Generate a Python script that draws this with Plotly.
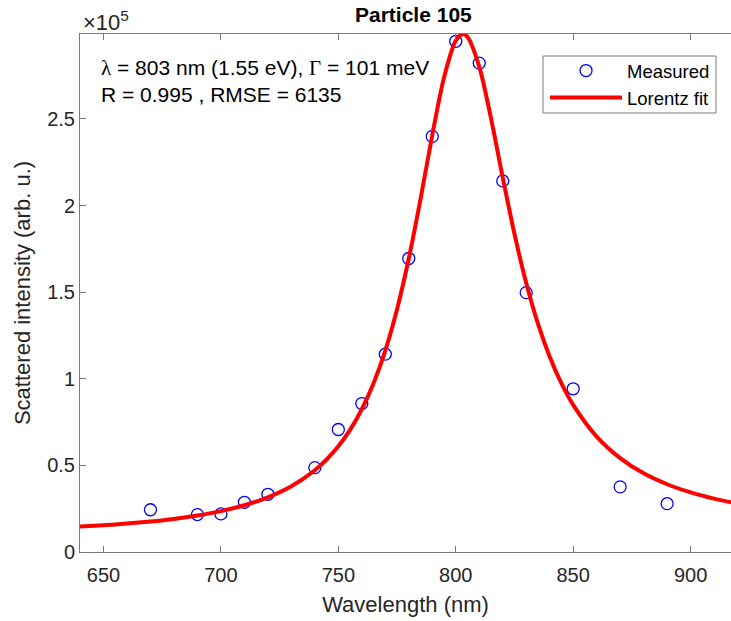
import plotly.graph_objects as go

# ---- data ----
meas_wl = [670, 690, 700, 710, 720, 740, 750, 760, 770, 780, 790, 800, 810, 820, 830, 850, 870, 890]
meas_int = [24400, 21600, 22000, 28700, 33300, 48700, 70700, 85700, 114200, 169400, 239900,
            294800, 282200, 214200, 149700, 94200, 37600, 27900]

fit_wl = [640, 650, 660, 670, 680, 690, 700, 710, 720, 730, 740, 745, 750, 755, 760, 765, 770,
          775, 780, 785, 790, 795, 800, 803, 805, 810, 815, 820, 825, 830, 835, 840, 845, 850,
          860, 870, 880, 890, 900, 910, 920]
fit_int = [14700, 15500, 16400, 17600, 19100, 21100, 23600, 27000, 31500, 37900, 47200, 53400,
           61000, 70500, 82400, 97400, 116300, 140100, 169400, 203700, 240600, 273900, 295200,
           299000, 297300, 280200, 250400, 216200, 183600, 155300, 131800, 112700, 97300, 84900,
           66600, 54200, 45400, 39100, 34400, 30800, 27900]

x_ticks = [650, 700, 750, 800, 850, 900]
y_ticks = [0, 50000, 100000, 150000, 200000, 250000]
y_tick_labels = ["0", "0.5", "1", "1.5", "2", "2.5"]

title_text = "Particle 105"
x_label = "Wavelength (nm)"
y_label = "Scattered intensity (arb. u.)"
info_line1 = ("<span style='font-family:Liberation Serif'>λ</span> = 803 nm (1.55 eV), "
              "<span style='font-family:Liberation Serif'>Γ</span> = 101 meV")
info_line2 = "R = 0.995 , RMSE = 6135"

# ---- layout geometry ----
W, H = 731, 621
L, R, T, B = 80, 0, 34, 69
PW, PH = W - L - R, H - T - B


def px(x):
    return (x - L) / PW


def py(y):
    return (H - B - y) / PH


FONT = "Liberation Sans, Arial, sans-serif"
AXC = "#7a7a7a"
TXC = "#262626"

fig = go.Figure()
fig.add_trace(go.Scatter(
    x=meas_wl, y=meas_int, mode="markers", name="Measured",
    marker=dict(symbol="circle-open", size=12, color="#0000ff", line=dict(width=1.3, color="#0000ff")),
))
fig.add_trace(go.Scatter(
    x=fit_wl, y=fit_int, mode="lines", name="Lorentz fit",
    line=dict(color="#ff0000", width=4, shape="spline", smoothing=0.8),
))

# opaque legend box (drawn as a shape so its size matches the reference)
fig.add_shape(type="rect", xref="paper", yref="paper",
              x0=px(543), x1=px(716), y0=py(113), y1=py(56),
              fillcolor="white", line=dict(color=AXC, width=1), layer="above")

fig.update_layout(
    width=W, height=H, autosize=False,
    margin=dict(l=L, r=R, t=T, b=B, pad=0),
    paper_bgcolor="white", plot_bgcolor="white",
    font=dict(family=FONT, size=20, color=TXC),
    showlegend=True,
    legend=dict(
        x=px(545), y=py(52), xanchor="left", yanchor="top",
        bgcolor="rgba(0,0,0,0)", borderwidth=0,
        font=dict(family=FONT, size=18.5, color="black"),
        itemwidth=72, tracegroupgap=0,
    ),
    xaxis=dict(
        range=[640, 917.2], tickvals=x_ticks, ticks="inside", ticklen=6, tickwidth=1,
        tickcolor=AXC, showline=True, linecolor=AXC, linewidth=1, mirror="ticks",
        showgrid=False, zeroline=False, tickfont=dict(size=20, color=TXC),
        ticklabelstandoff=5,
        title=dict(text=x_label, font=dict(size=22, color=TXC), standoff=11),
    ),
    yaxis=dict(
        range=[0, 299000], tickvals=y_ticks, ticktext=y_tick_labels, ticks="inside", ticklen=6,
        tickwidth=1, tickcolor=AXC, showline=True, linecolor=AXC, linewidth=1, mirror=False,
        showgrid=False, zeroline=False, tickfont=dict(size=20, color=TXC),
        title=dict(text=y_label, font=dict(size=22, color=TXC), standoff=10),
    ),
)

fig.add_annotation(text="<b>" + title_text + "</b>", xref="paper", yref="paper",
                   x=px(413), y=py(14), xanchor="center", yanchor="middle", showarrow=False,
                   font=dict(size=21, color="black"))
fig.add_annotation(text="×10<sup>5</sup>", xref="paper", yref="paper",
                   x=px(81), y=py(21), xanchor="left", yanchor="middle", showarrow=False,
                   font=dict(size=22, color=TXC))
fig.add_annotation(text=info_line1, xref="paper", yref="paper",
                   x=px(99), y=py(68), xanchor="left", yanchor="middle", showarrow=False,
                   font=dict(size=21, color="black"))
fig.add_annotation(text=info_line2, xref="paper", yref="paper",
                   x=px(99), y=py(94), xanchor="left", yanchor="middle", showarrow=False,
                   font=dict(size=21, color="black"))

fig.write_html(
    "out.html",
    config={"displayModeBar": False},
    post_script="document.body.style.margin='0';document.body.style.overflow='hidden';",
)
